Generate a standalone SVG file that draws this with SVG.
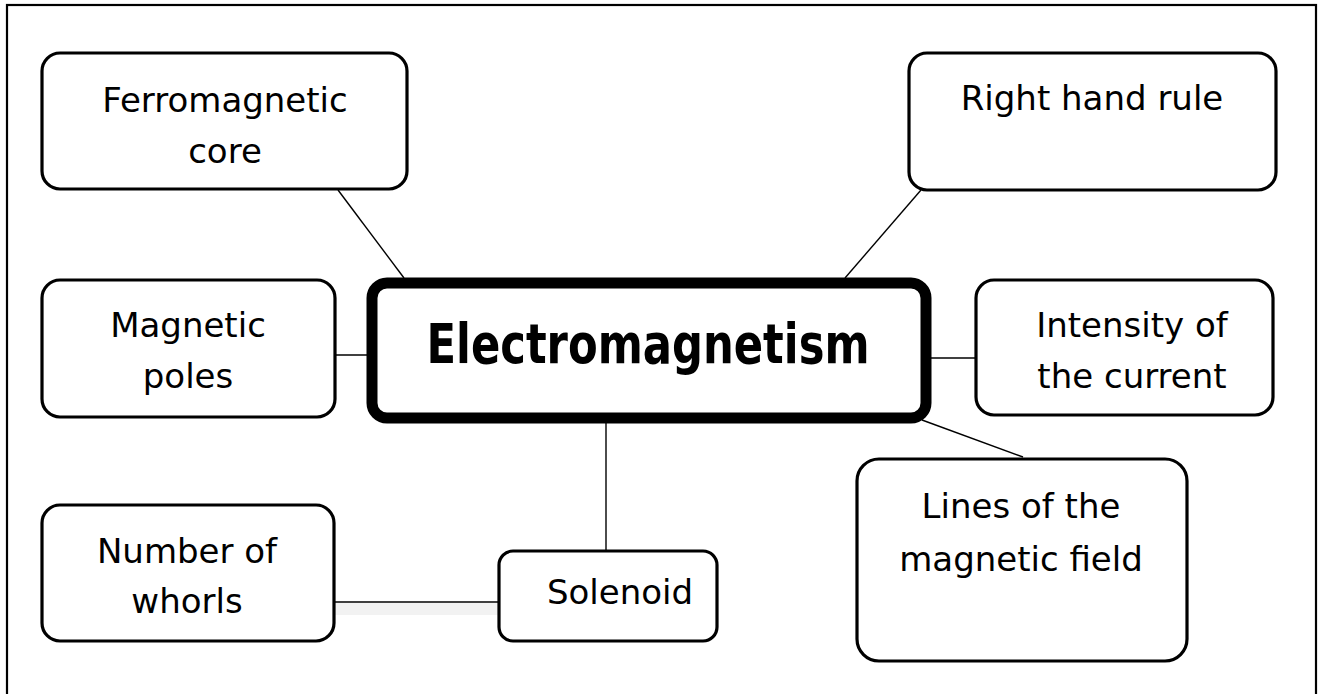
<svg xmlns="http://www.w3.org/2000/svg" width="1320" height="694" viewBox="0 0 1320 694">
<style>
.box{fill:#fff;stroke:#000;stroke-width:3.2}
.main{fill:#fff;stroke:#000;stroke-width:11}
.t{font-family:"DejaVu Sans",sans-serif;font-size:34px;fill:#000;text-anchor:middle}
.tb{font-family:"DejaVu Sans",sans-serif;font-size:55px;font-weight:bold;fill:#000;text-anchor:middle}
.c{stroke:#000;stroke-width:1.4;fill:none}
</style>
<rect x="0" y="0" width="1320" height="694" fill="#fff"/>
<rect x="7" y="5" width="1309" height="720" fill="none" stroke="#000" stroke-width="2.2"/>
<g id="connectors">
<line class="c" x1="338" y1="190" x2="404" y2="278"/>
<line class="c" x1="921" y1="190" x2="845" y2="278"/>
<line class="c" x1="326" y1="355" x2="379" y2="355"/>
<line class="c" x1="930" y1="358" x2="976" y2="358"/>
<line class="c" x1="922" y1="420" x2="1023" y2="457"/>
<line class="c" x1="606" y1="423" x2="606" y2="556"/>
<rect x="335" y="603" width="165" height="12" fill="#f2f2f2"/>
<line class="c" x1="334" y1="602" x2="500" y2="602"/>
</g>
<g id="ferromagnetic-core">
<rect class="box" x="42" y="53" width="365" height="136" rx="18"/>
<text class="t" x="225" y="112">Ferromagnetic</text>
<text class="t" x="225" y="163">core</text>
</g>
<g id="right-hand-rule">
<rect class="box" x="909" y="53" width="367" height="137" rx="18"/>
<text class="t" x="1092" y="110">Right hand rule</text>
</g>
<g id="magnetic-poles">
<rect class="box" x="42" y="280" width="293" height="137" rx="18"/>
<text class="t" x="188" y="337">Magnetic</text>
<text class="t" x="188" y="388">poles</text>
</g>
<g id="electromagnetism">
<rect class="main" x="372" y="283" width="554" height="135" rx="15"/>
<text class="tb" x="648" y="363" textLength="443" lengthAdjust="spacingAndGlyphs">Electromagnetism</text>
</g>
<g id="intensity">
<rect class="box" x="976" y="280" width="297" height="135" rx="18"/>
<text class="t" x="1132" y="337">Intensity of</text>
<text class="t" x="1132" y="388">the current</text>
</g>
<g id="lines-of-field">
<rect class="box" x="857" y="459" width="330" height="202" rx="22"/>
<text class="t" x="1021" y="518">Lines of the</text>
<text class="t" x="1021" y="571">magnetic field</text>
</g>
<g id="number-of-whorls">
<rect class="box" x="42" y="505" width="292" height="136" rx="18"/>
<text class="t" x="187" y="563">Number of</text>
<text class="t" x="187" y="613">whorls</text>
</g>
<g id="solenoid">
<rect class="box" x="499" y="551" width="218" height="90" rx="14"/>
<text class="t" x="620" y="604">Solenoid</text>
</g>
</svg>
